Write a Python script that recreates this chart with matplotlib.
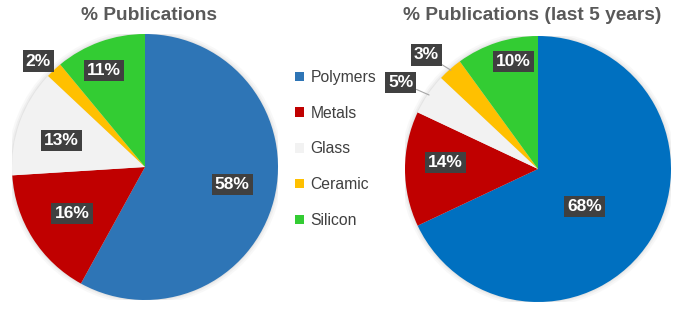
import matplotlib
matplotlib.use("Agg")
import matplotlib.pyplot as plt
import numpy as np

plt.rcParams['font.family'] = ['Liberation Sans', 'DejaVu Sans']

categories = ["Polymers", "Metals", "Glass", "Ceramic", "Silicon"]
values_all = [58, 16, 13, 2, 11]
values_recent = [68, 14, 5, 3, 10]
titles = ["% Publications", "% Publications (last 5 years)"]

colors_all = ["#2E75B6", "#C00000", "#F2F2F2", "#FFC000", "#33CC33"]
colors_recent = ["#0070C0", "#C00000", "#F2F2F2", "#FFC000", "#33CC33"]

# label radial distance / angle offsets (style)
label_r_all = [0.67, 0.65, 0.66, 1.13, 0.79]
label_r_recent = [0.45, 0.70, 1.22, 1.20, 0.83]
angle_adj_all = [3, 0, 2, 2, 3]
angle_adj_recent = [-6, -4, 2, 3, -5]

W, H = 685, 310
fig = plt.figure(figsize=(W / 100, H / 100), dpi=100)


def make_pie(rect, vals, cols, lrad, aadj, leaders):
    ax = fig.add_axes(rect)
    for r, a in [(1.035, 0.05), (1.02, 0.07), (1.008, 0.09)]:
        ax.add_patch(plt.Circle((0, 0), r, color="#808080", alpha=a, lw=0, zorder=0))
    wedges, _ = ax.pie(vals, colors=cols, startangle=90, counterclock=False,
                       wedgeprops=dict(edgecolor="none", linewidth=0), radius=1)
    for w in wedges:
        w.set_zorder(2)
    total = sum(vals)
    for i, (w, v) in enumerate(zip(wedges, vals)):
        mid = np.deg2rad((w.theta1 + w.theta2) / 2 + aadj[i])
        r = lrad[i]
        x, y = r * np.cos(mid), r * np.sin(mid)
        txt = f"{round(100 * v / total)}%"
        bb = dict(boxstyle="square,pad=0.18", fc="#404040", ec="none")
        if leaders[i]:
            midw = np.deg2rad((w.theta1 + w.theta2) / 2)
            ax.annotate(txt, xy=(0.99 * np.cos(midw), 0.99 * np.sin(midw)), xytext=(x, y),
                        ha="center", va="center", color="white", fontsize=12.5,
                        fontweight="bold", bbox=bb, zorder=5,
                        arrowprops=dict(arrowstyle="-", color="#A6A6A6", lw=0.8,
                                        shrinkA=0, shrinkB=0))
        else:
            ax.text(x, y, txt, ha="center", va="center", color="white", fontsize=12.5,
                    fontweight="bold", bbox=bb, zorder=5)
    ax.set_xlim(-1, 1)
    ax.set_ylim(-1, 1)
    ax.set_aspect("equal")
    ax.axis("off")
    return wedges


def rect_px(x0, y0, x1, y1):
    return [x0 / W, (H - y1) / H, (x1 - x0) / W, (y1 - y0) / H]


w1 = make_pie(rect_px(12, 34, 278, 300), values_all, colors_all, label_r_all,
              angle_adj_all, [False, False, False, False, False])
w2 = make_pie(rect_px(405, 36, 671, 302), values_recent, colors_recent, label_r_recent,
              angle_adj_recent, [False, False, True, True, False])

fig.text(149 / W, 1 - 16 / H, titles[0], ha="center", va="center", fontsize=13.8,
         fontweight="bold", color="#595959")
fig.text(532 / W, 1 - 15 / H, titles[1], ha="center", va="center", fontsize=13.8,
         fontweight="bold", color="#595959")

leg = fig.legend(w1, categories, loc="upper left", bbox_to_anchor=(295 / W, 1 - 70 / H),
                 frameon=False, fontsize=11.3, handlelength=0.55, handleheight=0.55,
                 handletextpad=0.45, labelspacing=1.32, borderaxespad=0, borderpad=0)
for t in leg.get_texts():
    t.set_color("#404040")

fig.savefig("out.png", dpi=100)
